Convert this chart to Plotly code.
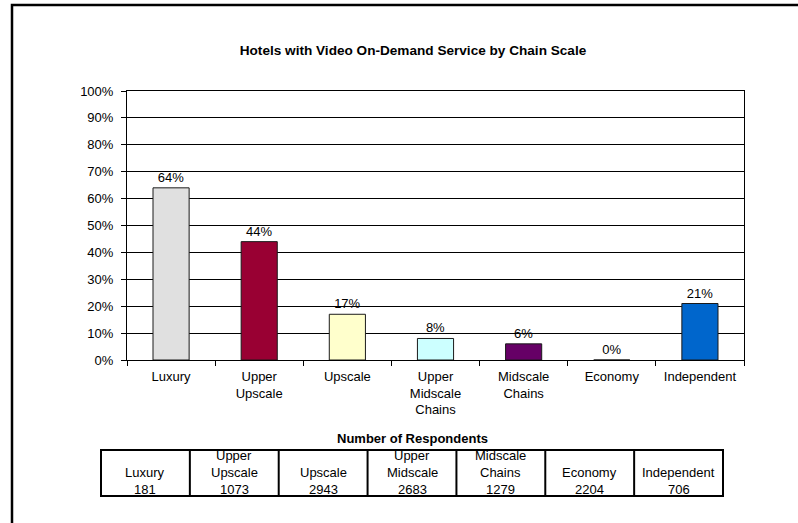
import plotly.graph_objects as go

# Chain-scale categories and share of hotels offering video on-demand
categories = ["Luxury", "Upper<br>Upscale", "Upscale", "Upper<br>Midscale<br>Chains",
              "Midscale<br>Chains", "Economy", "Independent"]
share_pct = [64, 44, 17, 8, 6, 0, 21]
bar_colors = ["#E0E0E0", "#990033", "#FFFFCC", "#CCFFFF", "#660066", "#FFFFFF", "#0066CC"]

# Respondent counts table
table_labels = [["Luxury"], ["Upper", "Upscale"], ["Upscale"], ["Upper", "Midscale"],
                ["Midscale", "Chains"], ["Economy"], ["Independent"]]
respondents = [181, 1073, 2943, 2683, 1279, 2204, 706]

W, H = 798, 523
L, R, T, B = 127, 744, 91, 360
FONT = "Liberation Sans, Arial, sans-serif"
FS = 13


def px(x):
    return (x - L) / (R - L)


def py(y):
    return (B - y) / (B - T)


fig = go.Figure(go.Bar(
    x=categories,
    y=[v / 100 for v in share_pct],
    width=0.41,
    marker=dict(color=bar_colors, line=dict(color="#1a1a1a", width=1)),
    text=[f"{v}%" for v in share_pct],
    textposition="outside",
    cliponaxis=False,
    textfont=dict(family=FONT, size=FS, color="#000000"),
))

fig.update_layout(
    width=W, height=H,
    margin=dict(l=L, r=W - R, t=T, b=H - B),
    paper_bgcolor="white", plot_bgcolor="white",
    showlegend=False,
    font=dict(family=FONT, size=FS, color="#000000"),
    title=dict(text="<b>Hotels with Video On-Demand Service by Chain Scale</b>",
               x=px(413), xref="paper", xanchor="center",
               y=1 - 50 / H, yanchor="middle",
               font=dict(family=FONT, size=13.6, color="#000000")),
)

fig.update_yaxes(
    range=[0, 1], tickvals=[i / 10 for i in range(11)],
    ticktext=[f"{i * 10}%" for i in range(11)],
    showgrid=True, gridcolor="#000000", gridwidth=1,
    showline=True, linecolor="#000000", linewidth=1, mirror=True,
    ticks="outside", ticklen=5, tickcolor="#000000", ticklabelstandoff=5,
    tickfont=dict(family=FONT, size=FS), zeroline=False, fixedrange=True,
)
fig.update_xaxes(
    showline=True, linecolor="#000000", linewidth=1, mirror=True,
    ticks="outside", ticklen=5, tickcolor="#000000", tickson="boundaries",
    ticklabelstandoff=4,
    tickfont=dict(family=FONT, size=FS), fixedrange=True,
)

shapes = []
annotations = []

# Outer chart border (runs off the right and bottom edges)
shapes.append(dict(type="rect", xref="paper", yref="paper",
                   x0=px(12), x1=px(W + 20), y0=py(H + 20), y1=py(5),
                   line=dict(color="#000000", width=2.5), fillcolor="rgba(0,0,0,0)",
                   layer="above"))

# Respondents table
tx0, tx1 = 101, 723
ty0, ty1 = 450, 496
col_w = (tx1 - tx0) / len(respondents)
shapes.append(dict(type="rect", xref="paper", yref="paper",
                   x0=px(tx0), x1=px(tx1), y0=py(ty1), y1=py(ty0),
                   line=dict(color="#000000", width=2), fillcolor="rgba(0,0,0,0)"))
for i in range(1, len(respondents)):
    xv = tx0 + i * col_w
    shapes.append(dict(type="line", xref="paper", yref="paper",
                       x0=px(xv), x1=px(xv), y0=py(ty1), y1=py(ty0),
                       line=dict(color="#000000", width=2)))

annotations.append(dict(text="<b>Number of Respondents</b>", xref="paper", yref="paper",
                        x=px(412), y=py(438.5), xanchor="center", yanchor="middle",
                        showarrow=False, borderpad=0, font=dict(family=FONT, size=FS)))

line_gap = 16.8
bottom_line_y = 489.5
for i, (lab, n) in enumerate(zip(table_labels, respondents)):
    lines = lab + [str(n)]
    cx = px(tx0 + (i + 0.5) * col_w)
    for k, txt in enumerate(reversed(lines)):
        annotations.append(dict(text=txt, xref="paper", yref="paper",
                                x=cx, y=py(bottom_line_y - k * line_gap),
                                xanchor="center", yanchor="middle",
                                showarrow=False, borderpad=0,
                                font=dict(family=FONT, size=FS)))

fig.update_layout(shapes=shapes, annotations=annotations)

fig.write_html("out.html")
